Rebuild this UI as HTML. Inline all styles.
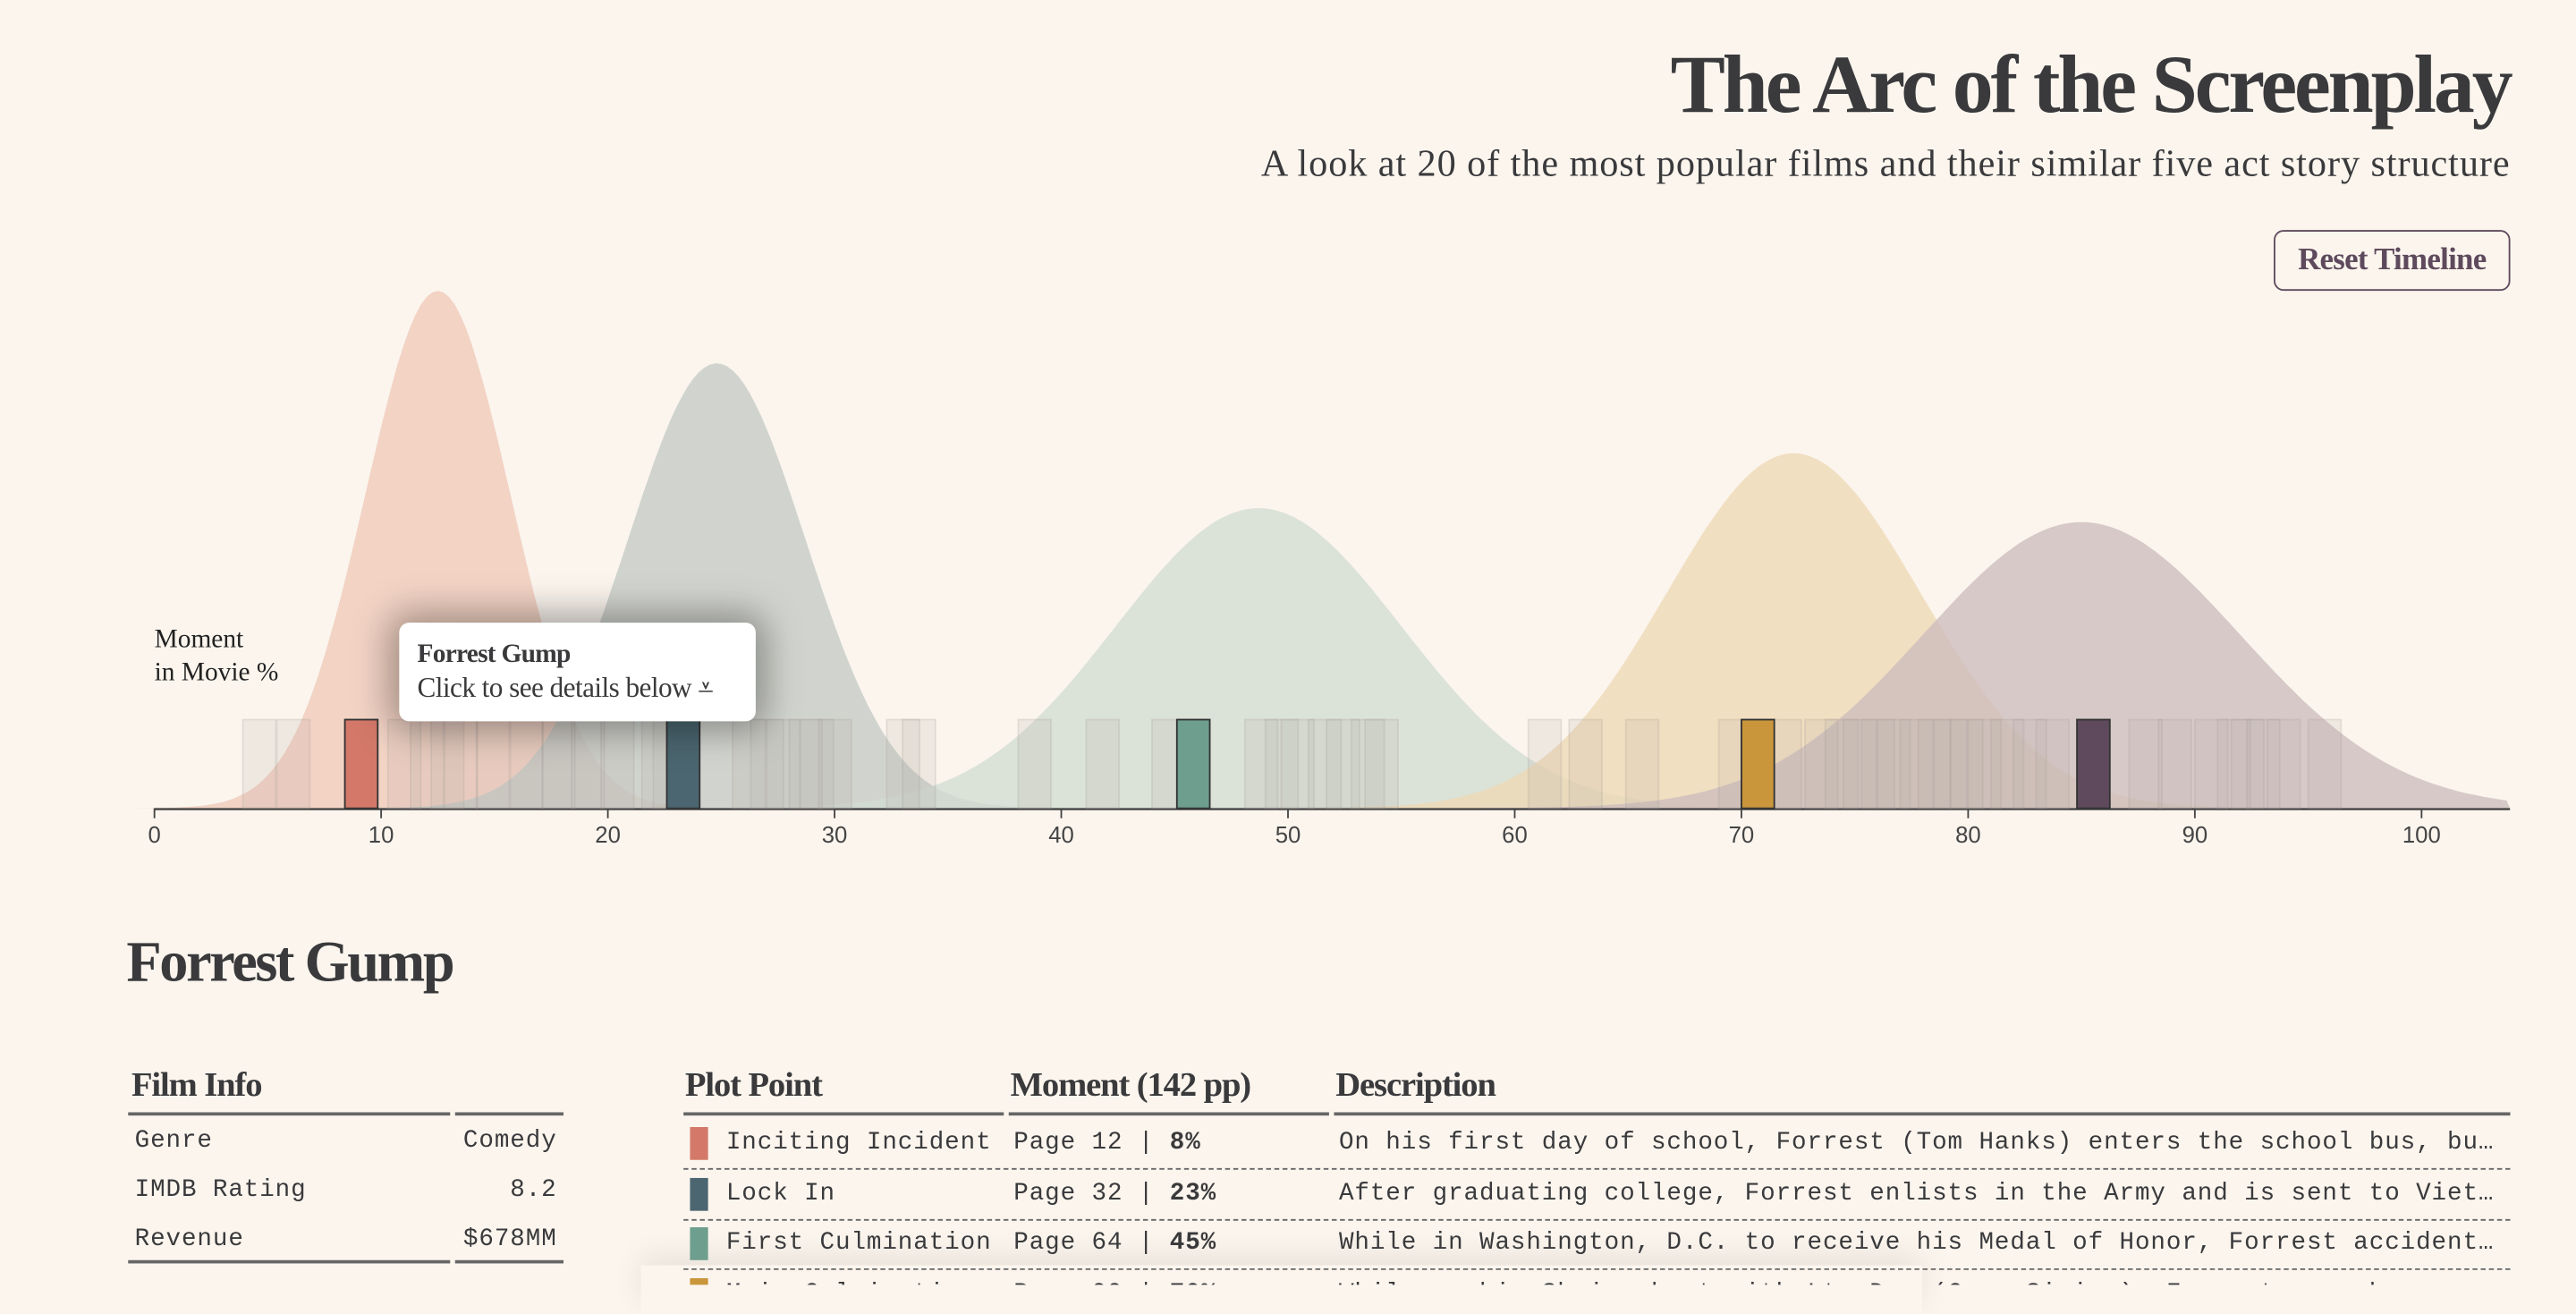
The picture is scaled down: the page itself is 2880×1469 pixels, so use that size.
<!DOCTYPE html>
<html><head><meta charset="utf-8">
<style>
html,body{margin:0;padding:0;background:#fbf5ee;width:2880px;height:1436px;overflow:hidden}
#wrap{position:absolute;left:0;top:0;width:1568px;height:782px;transform:scale(1.836735);transform-origin:0 0;font-family:"Liberation Serif",serif;color:#3a3a3c}
.abs{position:absolute}
h1{position:absolute;right:40px;top:22px;margin:0;font-size:50px;font-weight:bold;letter-spacing:-1.7px;color:#3a3a3c;white-space:nowrap}
.sub{right:40px;top:87px;font-size:23px;letter-spacing:0.5px;white-space:nowrap}
.btn{left:1384px;top:140px;width:142px;height:35px;border:1.3px solid #5e4a5c;border-radius:6px;color:#5e4a5c;font-weight:bold;font-size:19px;line-height:35px;text-align:center;letter-spacing:-0.4px}
.tip{left:243px;top:379px;width:217px;height:60px;background:#fff;border-radius:6px;box-shadow:0 0 22px 6px rgba(0,0,0,0.35)}
.mono{font-family:"Liberation Mono",monospace;font-size:15px;color:#3a3a3c;letter-spacing:0.5px}
.th{font-weight:bold;font-size:21px;letter-spacing:-0.6px;white-space:nowrap}
.hl{height:2px;background:#666}
.dl{border-top:1.5px dashed #666;height:0}
.sw{width:11px;height:20px}
</style></head><body>
<div id="wrap">
<h1>The Arc of the Screenplay</h1>
<div class="abs sub">A look at 20 of the most popular films and their similar five act story structure</div>
<div class="abs btn">Reset Timeline</div>

<svg class="abs" style="left:0;top:0" width="1568" height="540" viewBox="0 0 1568 540">
<g id="curves"></g><g id="axis"></g><g id="bars"></g>
<text x="94" y="394" font-size="16" fill="#222">Moment</text>
<text x="94" y="414" font-size="16" fill="#222">in Movie %</text>
</svg>
<div class="abs tip">
 <div class="abs" style="left:11px;top:11px;font-weight:bold;font-size:16px;letter-spacing:-0.4px">Forrest Gump</div>
 <div class="abs" style="left:11px;top:30px;font-size:17px;white-space:nowrap;letter-spacing:-0.3px">Click to see details below ⩡</div>
</div>

<div class="abs" style="left:77px;top:566px;font-size:35px;font-weight:bold;letter-spacing:-1.3px">Forrest Gump</div>

<div class="abs" style="left:80px;top:648px;width:263px">
 <div class="th">Film Info</div>
 <div class="abs hl" style="left:-2px;top:29px;width:196px"></div><div class="abs hl" style="left:197px;top:29px;width:66px"></div>
 <div class="abs mono" style="left:2px;top:38px">Genre</div><div class="abs mono" style="right:4px;top:38px">Comedy</div>
 <div class="abs mono" style="left:2px;top:68px">IMDB Rating</div><div class="abs mono" style="right:4px;top:68px">8.2</div>
 <div class="abs mono" style="left:2px;top:98px">Revenue</div><div class="abs mono" style="right:4px;top:98px">$678MM</div>
 <div class="abs hl" style="left:-2px;top:119px;width:196px"></div><div class="abs hl" style="left:197px;top:119px;width:66px"></div>
</div>

<div class="abs" style="left:390px;top:770px;width:780px;height:30px;box-shadow:0 -6px 18px rgba(0,0,0,0.08)"></div>
<div class="abs" style="left:416px;top:648px;width:1112px;height:134px;overflow:hidden">
 <div class="abs th" style="left:1px;top:0">Plot Point</div>
 <div class="abs th" style="left:199px;top:0">Moment (142 pp)</div>
 <div class="abs th" style="left:397px;top:0">Description</div>
 <div class="abs hl" style="left:0;top:29px;width:195px"></div><div class="abs hl" style="left:198px;top:29px;width:195px"></div><div class="abs hl" style="left:396px;top:29px;width:716px"></div>
 <div id="rows"></div>
</div>
</div>
<script>
const NS='http://www.w3.org/2000/svg';
const curveMeans=[12.5,24.8,48.7,72.3,85.0];
const curveSds=[3.2,3.9,6.3,5.6,7.0];
const curvePeaks=[1.0,0.86,0.58,0.686,0.553];
const curveColors=['#efc9b9','#c5cbc5','#d2ddd1','#eed9b5','#cdbcbc'];
const faintBars=[3.9,5.4,10.3,11.3,12.2,12.8,14.2,15.7,17.1,18.4,19.7,21.5,22.0,25.5,26.3,27.0,28.0,28.5,29.3,32.3,33.0,38.1,41.1,44.0,48.1,49.0,49.7,50.9,51.7,52.8,53.4,60.6,62.4,64.9,69.0,71.2,72.8,73.7,74.5,75.3,76.0,77.0,77.8,78.5,79.2,80.0,81.0,82.0,83.0,87.1,88.4,90.0,91.0,91.6,92.3,93.2,95.0];
const mainBars=[8.4,22.6,45.1,70.0,84.8];
const mainColors=['#d4796a','#4b6670','#6e9e8e','#c9963c','#5e4a5c'];
const ticks=[0,10,20,30,40,50,60,70,80,90,100];
const x=v=>94+v*13.8, y=d=>492-d*315;
const cg=document.getElementById('curves');
curveMeans.forEach((m,i)=>{
  let d='M'+x(-2)+','+y(0);
  for(let v=-2;v<=103.9;v+=0.25){d+=' L'+x(v).toFixed(1)+','+y(curvePeaks[i]*Math.exp(-0.5*((v-m)/curveSds[i])**2)).toFixed(1);}
  d+=' L'+x(103.9)+','+y(0)+'Z';
  const p=document.createElementNS(NS,'path');p.setAttribute('d',d);p.setAttribute('fill',curveColors[i]);p.setAttribute('opacity','0.78');
  
  
  cg.appendChild(p);
});
const ag=document.getElementById('axis');
const ln=document.createElementNS(NS,'line');ln.setAttribute('x1',x(0));ln.setAttribute('x2',x(103.9));ln.setAttribute('y1',492.5);ln.setAttribute('y2',492.5);ln.setAttribute('stroke','#444');ln.setAttribute('stroke-width','1.3');


ag.appendChild(ln);
ticks.forEach(t=>{
  const l=document.createElementNS(NS,'line');l.setAttribute('x1',x(t));l.setAttribute('x2',x(t));l.setAttribute('y1',492);l.setAttribute('y2',498);l.setAttribute('stroke','#444');
  
  
  ag.appendChild(l);
  const tx=document.createElementNS(NS,'text');tx.setAttribute('x',x(t));tx.setAttribute('y',513);tx.setAttribute('text-anchor','middle');tx.setAttribute('font-size','14');tx.setAttribute('font-family','Liberation Sans, sans-serif');tx.setAttribute('fill','#444');tx.textContent=t;
  
  
  ag.appendChild(tx);
});
const bg=document.getElementById('bars');
faintBars.forEach(v=>{
  const r=document.createElementNS(NS,'rect');r.setAttribute('x',x(v));r.setAttribute('y',438);r.setAttribute('width',20);r.setAttribute('height',54);r.setAttribute('fill','rgba(175,165,160,0.16)');r.setAttribute('stroke','rgba(160,150,145,0.22)');
  
  
  bg.appendChild(r);
});
mainBars.forEach((v,i)=>{
  const r=document.createElementNS(NS,'rect');r.setAttribute('x',x(v));r.setAttribute('y',438);r.setAttribute('width',20);r.setAttribute('height',54);r.setAttribute('fill',mainColors[i]);r.setAttribute('stroke','#333');r.setAttribute('stroke-width','1');
  
  
  bg.appendChild(r);
});
const rowNames=['Inciting Incident','Lock In','First Culmination','Main Culmination'];
const rowPages=['Page 12','Page 32','Page 64','Page 99'];
const rowPcts=['8%','23%','45%','70%'];
const rowDesc=['On his first day of school, Forrest (Tom Hanks) enters the school bus, bu…','After graduating college, Forrest enlists in the Army and is sent to Viet…','While in Washington, D.C. to receive his Medal of Honor, Forrest accident…','While on his Shrimp boat with Lt. Dan (Gary Sinise), Forrest sees h…'];
const rows=document.getElementById('rows');
rowNames.forEach((n,i)=>{
  const top=37+i*30.5;
  const d=document.createElement('div');d.className='abs';d.style.cssText='left:0;top:'+top+'px;width:1112px;height:30px';
  
  
  d.innerHTML='<div class="abs sw" style="left:4px;top:1px;background:'+mainColors[i]+'"></div>'+
   '<div class="abs mono" style="left:26px;top:2px;white-space:nowrap">'+n+'</div>'+
   '<div class="abs mono" style="left:201px;top:2px;white-space:nowrap">'+rowPages[i]+' | <b>'+rowPcts[i]+'</b></div>'+
   '<div class="abs mono" style="left:399px;top:2px;white-space:nowrap">'+rowDesc[i]+'</div>'+
   '<div class="abs dl" style="left:0;top:26px;width:1112px"></div>';
  rows.appendChild(d);
});
</script>
</body></html>
